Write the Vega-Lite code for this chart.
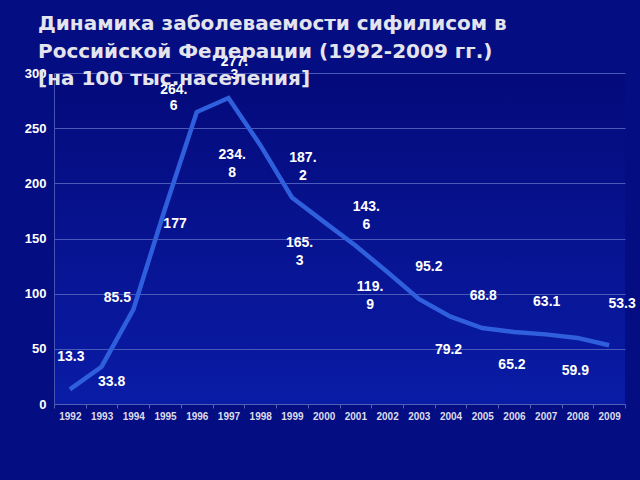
{
  "$schema": "https://vega.github.io/schema/vega-lite/v6.json",
  "width": 571,
  "height": 331,
  "autosize": {"type": "none"},
  "padding": {"left": 54, "top": 73, "right": 15, "bottom": 76},
  "background": "#050d82",
  "title": {
    "text": ["Динамика заболеваемости сифилисом в", "Российской Федерации (1992-2009 гг.)", "[на 100 тыс.населения]"],
    "anchor": "start",
    "frame": "group",
    "dx": -16,
    "offset": -54,
    "baseline": "bottom",
    "font": "DejaVu Sans",
    "fontSize": 20,
    "fontWeight": "bold",
    "color": "#e4e4ee",
    "lineHeight": 27.4
  },
  "config": {
    "view": {"stroke": null, "fill": {"gradient": "linear", "x1": 0, "y1": 0, "x2": 0, "y2": 1, "stops": [{"offset": 0, "color": "#040a7a"}, {"offset": 1, "color": "#0a1ca6"}]}},
    "font": "Liberation Sans",
    "text": {"fontSize": 14, "fontWeight": "bold", "color": "#ffffff", "baseline": "middle", "lineBreak": "\n", "lineHeight": 18}
  },
  "data": {
    "values": [
      {"year": 1992, "value": 13.3, "label": "13.3"},
      {"year": 1993, "value": 33.8, "label": "33.8"},
      {"year": 1994, "value": 85.5, "label": "85.5"},
      {"year": 1995, "value": 177, "label": "177"},
      {"year": 1996, "value": 264.6, "label": "264.\n6"},
      {"year": 1997, "value": 277.3, "label": "277.\n3"},
      {"year": 1998, "value": 234.8, "label": "234.\n8"},
      {"year": 1999, "value": 187.2, "label": "187.\n2"},
      {"year": 2000, "value": 165.3, "label": "165.\n3"},
      {"year": 2001, "value": 143.6, "label": "143.\n6"},
      {"year": 2002, "value": 119.9, "label": "119.\n9"},
      {"year": 2003, "value": 95.2, "label": "95.2"},
      {"year": 2004, "value": 79.2, "label": "79.2"},
      {"year": 2005, "value": 68.8, "label": "68.8"},
      {"year": 2006, "value": 65.2, "label": "65.2"},
      {"year": 2007, "value": 63.1, "label": "63.1"},
      {"year": 2008, "value": 59.9, "label": "59.9"},
      {"year": 2009, "value": 53.3, "label": "53.3"}
    ]
  },
  "encoding": {
    "x": {
      "field": "year",
      "type": "ordinal",
      "bandPosition": 0.5,
      "scale": {"type": "band", "paddingInner": 0, "paddingOuter": 0},
      "axis": {
        "title": null,
        "labelAngle": 0,
        "labelFont": "Liberation Sans",
        "labelFontSize": 10,
        "labelFontWeight": "bold",
        "labelColor": "#dcdcec",
        "labelPadding": 3,
        "tickBand": "extent",
        "tickSize": 4,
        "tickColor": "#5060b4",
        "domainColor": "#5060b4",
        "grid": false
      }
    },
    "y": {
      "field": "value",
      "type": "quantitative",
      "scale": {"domain": [0, 300], "nice": false},
      "axis": {
        "title": null,
        "values": [0, 50, 100, 150, 200, 250, 300],
        "labelFont": "Liberation Sans",
        "labelFontSize": 13,
        "labelFontWeight": "bold",
        "labelColor": "#ffffff",
        "labelPadding": 8,
        "ticks": false,
        "domainColor": "#4454b0",
        "grid": true,
        "gridColor": "#4a5ab8",
        "gridWidth": 1
      }
    }
  },
  "layer": [
    {"mark": {"type": "line", "color": "#2f5fdc", "strokeWidth": 4.5}},
    {
      "transform": [{"filter": {"field": "year", "oneOf": [1992, 2005, 2007]}}],
      "mark": {"type": "text", "dx": 1, "dy": -32},
      "encoding": {"text": {"field": "label"}}
    },
    {
      "transform": [{"filter": {"field": "year", "oneOf": [2003]}}],
      "mark": {"type": "text", "dx": 10, "dy": -32},
      "encoding": {"text": {"field": "label"}}
    },
    {
      "transform": [{"filter": {"field": "year", "oneOf": [2009]}}],
      "mark": {"type": "text", "dx": 13, "dy": -41},
      "encoding": {"text": {"field": "label"}}
    },
    {
      "transform": [{"filter": {"field": "year", "oneOf": [2004, 2006, 2008]}}],
      "mark": {"type": "text", "dx": -2, "dy": 33},
      "encoding": {"text": {"field": "label"}}
    },
    {
      "transform": [{"filter": {"field": "year", "oneOf": [1993, 1995]}}],
      "mark": {"type": "text", "dx": 10, "dy": 15},
      "encoding": {"text": {"field": "label"}}
    },
    {
      "transform": [{"filter": {"field": "year", "oneOf": [1994]}}],
      "mark": {"type": "text", "dx": -16, "dy": -12},
      "encoding": {"text": {"field": "label"}}
    },
    {
      "transform": [{"filter": {"field": "year", "oneOf": [1996]}}],
      "mark": {"type": "text", "dx": -23, "dy": -22, "lineHeight": 16},
      "encoding": {"text": {"field": "label"}}
    },
    {
      "transform": [{"filter": {"field": "year", "oneOf": [1997]}}],
      "mark": {"type": "text", "dx": 6, "dy": -36, "lineHeight": 13},
      "encoding": {"text": {"field": "label"}}
    },
    {
      "transform": [{"filter": {"field": "year", "oneOf": [1998]}}],
      "mark": {"type": "text", "dx": -28, "dy": 10},
      "encoding": {"text": {"field": "label"}}
    },
    {
      "transform": [{"filter": {"field": "year", "oneOf": [1999, 2001]}}],
      "mark": {"type": "text", "dx": 11, "dy": -39},
      "encoding": {"text": {"field": "label"}}
    },
    {
      "transform": [{"filter": {"field": "year", "oneOf": [2000]}}],
      "mark": {"type": "text", "dx": -24, "dy": 21},
      "encoding": {"text": {"field": "label"}}
    },
    {
      "transform": [{"filter": {"field": "year", "oneOf": [2002]}}],
      "mark": {"type": "text", "dx": -17, "dy": 15},
      "encoding": {"text": {"field": "label"}}
    }
  ]
}
